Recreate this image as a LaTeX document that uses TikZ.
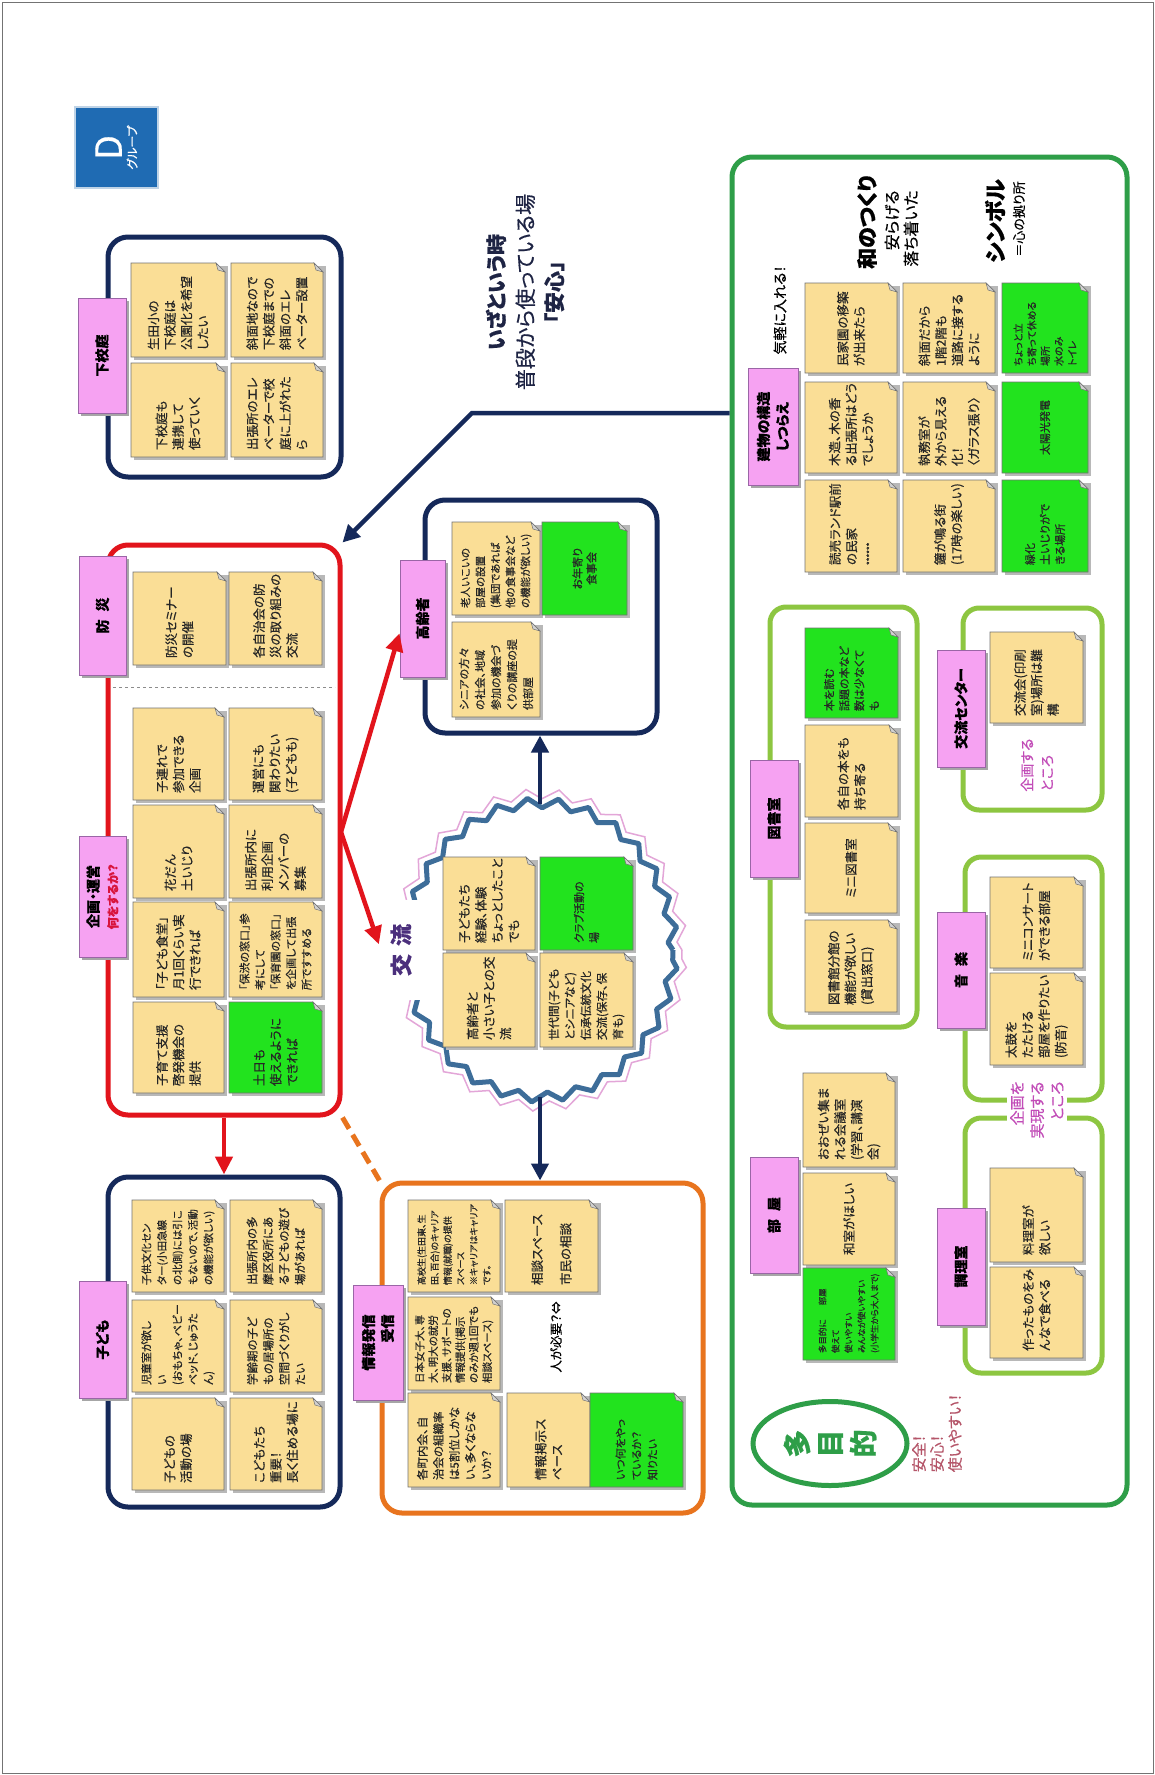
\documentclass[tikz,border=0pt]{standalone}
\usepackage{fontspec}
\setmainfont{Noto Sans CJK JP}[RawFeature=+palt, FakeBold=0.5]
\usetikzlibrary{arrows.meta,decorations.pathmorphing,calc,shapes.geometric}
\definecolor{navyc}{HTML}{15295A}
\definecolor{redc}{HTML}{E2141C}
\definecolor{orangec}{HTML}{E8741E}
\definecolor{greenbig}{HTML}{2E9E48}
\definecolor{greenlt}{HTML}{8DC641}
\definecolor{stky}{HTML}{FADE96}
\definecolor{stkg}{HTML}{22E31E}
\definecolor{pinkl}{HTML}{F6A2F2}
\definecolor{pinkb}{HTML}{9A66A6}
\definecolor{dblue}{HTML}{1F6BB3}
\definecolor{dbord}{HTML}{BFD3E6}
\definecolor{zigblue}{HTML}{3D6D99}
\definecolor{zigpink}{HTML}{E3A6D8}
\definecolor{kpurple}{HTML}{4B2F7C}
\definecolor{magt}{HTML}{C24DB8}
\definecolor{rosec}{HTML}{B55569}
\definecolor{kred}{HTML}{D8143C}
\definecolor{titlec}{HTML}{1E2444}
\tikzset{
 bigbox/.style={draw, fill=white, rounded corners=20pt, line width=5pt, inner sep=0pt},
 stktext/.style={rotate=90, align=left, inner sep=0pt, text=black!85, font=\fontsize{12.5}{16.5}\selectfont},
 lblbox/.style={rotate=90, fill=pinkl, draw=pinkb, line width=1pt, align=center, inner sep=2pt, font=\fontsize{14}{19}\selectfont\bfseries},
 navyarrow/.style={navyc, line width=4.5pt, -{Triangle[length=17pt,width=17pt]}},
 redarrow/.style={redc, line width=4.5pt, -{Triangle[length=18pt,width=17pt]}},
 freetext/.style={rotate=90, inner sep=0pt},
}
\newcommand\mystk[8][]{%
  \fill[black!28] ({#3+3},{#4+3}) rectangle ({#5+3},{#6+3});
  \filldraw[fill=#7, draw=black!55, line width=0.7pt] (#3,#4) -- ({#5-9},#4) -- (#5,{#4+9}) -- (#5,#6) -- (#3,#6) -- cycle;
  \filldraw[fill=black!18, draw=black!55, line width=0.5pt] ({#5-9},#4) -- ({#5-7},{#4+7}) -- (#5,{#4+9}) -- cycle;
  \pgfmathsetmacro\stkW{#6-#4-14}%
  \node[stktext, text width=\stkW pt, #1] (#2) at ({(#3+#5)/2},{(#4+#6)/2}) {#8};%
}
\newcommand\mylbl[7][]{%
  \fill[black!35] ({#3+3},{#4+3}) rectangle ({#5+3},{#6+3});
  \pgfmathsetmacro\lblW{#6-#4}\pgfmathsetmacro\lblH{#5-#3}%
  \node[lblbox, minimum width=\lblW pt, minimum height=\lblH pt, #1] (#2) at ({(#3+#5)/2},{(#4+#6)/2}) {#7};%
}
\begin{document}
\begin{tikzpicture}[x=1pt,y=-1pt]
\useasboundingbox (0,0) rectangle (1155,1775);
\fill[white] (0,0) rectangle (1155,1775);
\draw[black!55, line width=1pt] (2,2) rectangle (1153,1773);

% D group
\node[draw=dbord, line width=2.5pt, fill=dblue, minimum width=81pt, minimum height=83pt, rotate=90, align=center, text=white, inner sep=0pt] (dgroup) at (116.5,147.5) {{\fontsize{36}{34}\selectfont D}\\[3pt]{\fontsize{12}{14}\selectfont グループ}};

% title
\node[freetext, align=center, text=titlec, font=\fontsize{21}{29}\selectfont] (title) at (525,292) {\textbf{いざという時}\\普段から使っている場\\\textbf{「安心」}};

% boxes
\node[bigbox, draw=greenbig, minimum width=395pt, minimum height=1348pt] (green) at (929.5,831) {};
\node[bigbox, draw=navyc, minimum width=233pt, minimum height=240pt] (gekotei) at (224.5,357) {};
\node[bigbox, draw=redc, minimum width=232pt, minimum height=570pt] (kikaku) at (224,830) {};
\node[bigbox, draw=navyc, minimum width=232pt, minimum height=330pt] (kodomo) at (224,1342) {};
\node[bigbox, draw=orangec, minimum width=321pt, minimum height=330pt] (joho) at (542.5,1348) {};
\node[bigbox, draw=navyc, minimum width=232pt, minimum height=233pt] (koreisha) at (541,616.5) {};
\node[bigbox, draw=greenlt, rounded corners=16pt, minimum width=147pt, minimum height=420pt] (tosho) at (843.5,817) {};
\node[bigbox, draw=greenlt, rounded corners=16pt, minimum width=139pt, minimum height=202pt] (koryuc) at (1032.5,709) {};
\node[bigbox, draw=greenlt, rounded corners=16pt, minimum width=137pt, minimum height=243pt] (ongaku) at (1033.5,978.5) {};
\node[bigbox, draw=greenlt, rounded corners=16pt, minimum width=137pt, minimum height=255pt] (chori) at (1033.5,1245.5) {};

\draw[black!45, dashed, line width=0.8pt] (113,687) -- (335,687);

% exchange circle
\coordinate (kc) at (540,950);
\coordinate (kctop) at (540,804);
\coordinate (kcbot) at (540,1097);
\draw[zigpink, line width=1.5pt, decorate, decoration={zigzag, segment length=32pt, amplitude=5pt}] (kc) ellipse [x radius=142pt, y radius=156pt];
\draw[zigblue, line width=5pt, line join=round, decorate, decoration={zigzag, segment length=30pt, amplitude=5pt}] (kc) ellipse [x radius=133pt, y radius=147pt];
\node[freetext, fill=white, minimum width=100pt, minimum height=40pt, text=kpurple, font=\fontsize{22}{24}\selectfont\bfseries] (lkouryu) at (401,950) {交\hspace{8pt}流};

% stickies: gekotei
\mystk{g1}{131}{263}{225}{357}{stky}{生田小の\\下校庭は\\公園化を希望\\したい}
\mystk{g2}{131}{363}{225}{457}{stky}{下校庭も\\連携して\\使っていく}
\mystk{g3}{231}{263}{323}{357}{stky}{斜面地なので\\下校庭までの\\斜面のエレ\\ベーター設置}
\mystk{g4}{231}{363}{323}{457}{stky}{出張所のエレ\\ベーターで校\\庭に上がれた\\ら}
% bousai
\mystk{b1}{133}{572}{226}{665}{stky}{防災セミナー\\の開催}
\mystk{b2}{229}{572}{322}{665}{stky}{各自治会の防\\災の取り組みの\\交流}
% kikaku
\mystk{k1}{133}{708}{224}{800}{stky}{子連れで\\参加できる\\企画}
\mystk{k2}{229}{708}{322}{800}{stky}{運営にも\\関わりたい\\(子どもも)}
\mystk{k3}{133}{805}{224}{898}{stky}{花だん\\土いじり}
\mystk{k4}{229}{805}{322}{898}{stky}{出張所内に\\利用企画\\メンバーの\\募集}
\mystk{k5}{133}{902}{224}{997}{stky}{「子ども食堂」\\月1回くらい実\\行できれば}
\mystk[font=\fontsize{11}{15.5}\selectfont]{k6}{229}{902}{322}{997}{stky}{「保渋の窓口」参\\考にして\\「保育園の窓口」\\を企画して出張\\所ですすめる}
\mystk{k7}{133}{1002}{224}{1093}{stky}{子育て支援\\啓発機会の\\提供}
\mystk{k8}{229}{1002}{322}{1093}{stkg}{土日も\\使えるように\\できれば}
% kodomo
\mystk[font=\fontsize{10.5}{15.5}\selectfont]{c1}{132}{1200}{224}{1292}{stky}{子供文化セン\\ター(小田急線\\の北側)には引こ\\もないので、活動\\の機能が欲しい)}
\mystk[font=\fontsize{11}{15.5}\selectfont]{c2}{132}{1300}{224}{1392}{stky}{児童室が欲し\\い\\(おもちゃ、ベビー\\ベッド、じゅうた\\ん)}
\mystk{c3}{132}{1398}{224}{1490}{stky}{子どもの\\活動の場}
\mystk[font=\fontsize{11.5}{16}\selectfont]{c4}{230}{1200}{322}{1292}{stky}{出張所内の多\\摩区役所にあ\\る子どもの遊び\\場があれば}
\mystk[font=\fontsize{11.5}{16}\selectfont]{c5}{230}{1300}{322}{1392}{stky}{学齢期の子ど\\もの居場所の\\空間づくりがし\\たい}
\mystk{c6}{230}{1398}{322}{1490}{stky}{こどもたち\\重要！\\長く住める場に}
% joho
\mystk[font=\fontsize{9}{13}\selectfont]{j1}{408}{1200}{500}{1292}{stky}{高校生(生田東、生\\田、百合)のキャリア\\情報(就職)の提供\\スペース\\※キャリアはキャリア\\です。}
\mystk[font=\fontsize{10.5}{13.5}\selectfont]{j2}{408}{1297}{500}{1390}{stky}{日本女子大、専\\大、明大の就労\\支援、サポートの\\情報提供(掲示\\のみか週1回でも\\相談スペース)}
\mystk[font=\fontsize{11.5}{16}\selectfont]{j3}{408}{1393}{500}{1487}{stky}{各町内会、自\\治会の組織率\\は5割位しかな\\い、多くならな\\いか？}
\mystk{j4}{505}{1200}{598}{1292}{stky}{相談スペース\\[12pt]市民の相談}
\mystk{j5}{507}{1393}{590}{1487}{stky}{情報掲示ス\\ペース}
\mystk[font=\fontsize{11}{16}\selectfont]{j6}{590}{1393}{683}{1487}{stkg}{いつ何をやっ\\ているか？\\知りたい}
% koreisha
\mystk[font=\fontsize{10.5}{15}\selectfont]{r1}{452}{522}{540}{615}{stky}{老人いこいの\\部屋の設置\\(集団であれば\\他の食事会など\\の機能が欲しい)}
\mystk[font=\fontsize{11}{14}\selectfont, align=center]{r2}{542}{522}{627}{615}{stkg}{お年寄り\\食事会}
\mystk[font=\fontsize{11}{16}\selectfont]{r3}{452}{622}{540}{717}{stky}{シニアの方々\\の社会、地域\\参加の機会づ\\くりの講座の提\\供部屋}
% koryu circle
\mystk{x1}{443}{857}{535}{950}{stky}{子どもたち\\経験、体験\\ちょっとしたこと\\でも}
\mystk[font=\fontsize{11}{15}\selectfont]{x2}{540}{857}{633}{950}{stkg}{クラブ活動の\\場}
\mystk{x3}{443}{953}{535}{1047}{stky}{高齢者と\\小さい子との交\\流}
\mystk[font=\fontsize{11.5}{16}\selectfont]{x4}{540}{953}{633}{1047}{stky}{世代間(子ども\\とシニアなど)\\伝承伝統文化\\交流(保存、保\\育も)}
% tatemono
\mystk{t1}{805}{283}{897}{373}{stky}{民家園の移築\\が出来たら}
\mystk{t2}{805}{382}{897}{473}{stky}{木造、木の香\\る出張所はどう\\でしょうか}
\mystk{t3}{805}{480}{897}{572}{stky}{読売ランド駅前\\の民家\\{\fontsize{8}{10}\selectfont ******}}
\mystk{t4}{903}{283}{995}{373}{stky}{斜面だから\\1階2階も\\道路に接する\\ように}
\mystk{t5}{903}{382}{995}{473}{stky}{執務室が\\外から見える\\化！\\〈ガラス張り〉}
\mystk{t6}{903}{480}{995}{572}{stky}{鐘が鳴る街\\(17時の楽しい)}
\mystk[font=\fontsize{10}{13.5}\selectfont]{t7}{1002}{283}{1088}{373}{stkg}{ちょっと立\\ち寄って休める\\場所\\水のみ\\トイレ}
\mystk[font=\fontsize{11}{15}\selectfont, align=center]{t8}{1002}{382}{1088}{473}{stkg}{太陽光発電}
\mystk[font=\fontsize{11}{15}\selectfont]{t9}{1002}{480}{1088}{572}{stkg}{緑化\\土いじりがで\\きる場所}
% tosho
\mystk[font=\fontsize{11}{15}\selectfont]{l1}{805}{628}{898}{718}{stkg}{本を読む\\話題の本など\\数は少なくて\\も}
\mystk{l2}{805}{725}{898}{817}{stky}{各自の本をも\\持ち寄る}
\mystk[align=center]{l3}{805}{823}{897}{913}{stky}{ミニ図書室}
\mystk{l4}{805}{920}{897}{1012}{stky}{図書館分館の\\機能が欲しい\\(貸出窓口)}
% koryu center
\mystk{e1}{990}{632}{1083}{723}{stky}{交流会(印刷\\室)場所は難\\構}
% ongaku
\mystk{m1}{990}{877}{1083}{968}{stky}{ミニコンサート\\ができる部屋}
\mystk{m2}{990}{973}{1083}{1065}{stky}{太鼓を\\たたける\\部屋を作りたい\\(防音)}
% chori
\mystk{o1}{990}{1168}{1083}{1262}{stky}{料理室が\\欲しい}
\mystk{o2}{990}{1267}{1083}{1358}{stky}{作ったものをみ\\んなで食べる}
% heya
\mystk{h1}{803}{1073}{895}{1167}{stky}{おおぜい集ま\\れる会議室\\(学習、講演\\会)}
\mystk[align=center]{h2}{803}{1173}{895}{1265}{stky}{和室がほしい}
\mystk[font=\fontsize{8.5}{13}\selectfont]{h3}{803}{1268}{895}{1360}{stkg}{多目的に\hspace{14pt}部屋\\使えて\\使いやすい\\みんなが使いやすい\\(小学生から大人まで)}

% labels
\mylbl{lgekotei}{78}{298}{126}{413}{下校庭}
\mylbl{lbousai}{79}{556}{126}{675}{防\hspace{8pt}災}
\mylbl{lkikaku}{79}{836}{126}{957}{企画・運営\\{\color{kred}\fontsize{12}{14}\selectfont 何をするか？}}
\mylbl{lkodomo}{79}{1281}{126}{1398}{子ども}
\mylbl[align=right]{ljoho}{353}{1285}{403}{1400}{情報発信\\受信}
\mylbl{lkoreisha}{400}{560}{445}{677}{高齢者}
\mylbl{ltatemono}{748}{368}{798}{485}{建物の構造\\しつらえ}
\mylbl{ltosho}{750}{760}{798}{877}{図書室}
\mylbl{lkoryuc}{937}{650}{985}{767}{交流センター}
\mylbl{longaku}{937}{912}{985}{1028}{音\hspace{8pt}楽}
\mylbl{lchori}{937}{1208}{985}{1325}{調理室}
\mylbl{lheya}{750}{1157}{798}{1273}{部\hspace{8pt}屋}

% free texts
\node[freetext, font=\fontsize{14}{16}\selectfont] (kigaru) at (780,310) {気軽に入れる！};
\node[freetext, font=\fontsize{21}{24}\selectfont\bfseries] (wa) at (867,222) {和のつくり};
\node[freetext, anchor=east, font=\fontsize{16}{18}\selectfont] (yasu) at (892,190) {安らげる};
\node[freetext, anchor=east, font=\fontsize{16}{18}\selectfont] (ochi) at (911,190) {落ち着いた};
\node[freetext, font=\fontsize{22}{24}\selectfont\bfseries] (symbol) at (995,221) {シンボル};
\node[freetext, font=\fontsize{13}{15}\selectfont] (kokoro) at (1019,219) {＝心の拠り所};
\node[freetext, font=\fontsize{12.5}{15}\selectfont] (hito) at (556,1337) {人が必要？⇔};
\node[freetext, align=left, text=magt, font=\fontsize{14}{20}\selectfont] (kikakusuru) at (1037,765) {企画する\\ところ};
\node[freetext, align=right, text=magt, fill=white, inner sep=3pt, font=\fontsize{15}{20}\selectfont] (jitsugen) at (1037,1110) {企画を\\実現する\\ところ};
\node[ellipse, draw=greenbig, line width=5pt, rotate=90, minimum width=84pt, minimum height=154pt, inner sep=0pt, align=center, text=greenbig, font=\fontsize{28}{33}\selectfont\bfseries] (tamokuteki) at (830,1443.5) {多\\目\\的};
\node[freetext, align=left, text=rosec, font=\fontsize{15}{18}\selectfont] (anzen) at (937,1433) {安全！\\安心！\\使いやすい！};

% connectors
\coordinate (bend) at (472,413);
\draw[navyarrow] (green.west |- bend) -- (bend) -- (kikaku.north east);
\coordinate (rv) at (341,832);
\draw[redarrow] (rv) -- ($(lkoreisha.north)!0.25!(lkoreisha.north west)$);
\draw[redarrow, shorten >=6pt] (rv) -- (lkouryu.north);
\draw[redarrow] (kikaku.south) -- (kodomo.north);
\draw[orangec, line width=5pt, dash pattern=on 13pt off 7pt] (kikaku.south east) -- (joho.north west);
\draw[navyarrow] (kcbot) -- (kcbot |- joho.north);
\draw[navyarrow] (kctop) -- (kctop |- koreisha.south);
\end{tikzpicture}
\end{document}
